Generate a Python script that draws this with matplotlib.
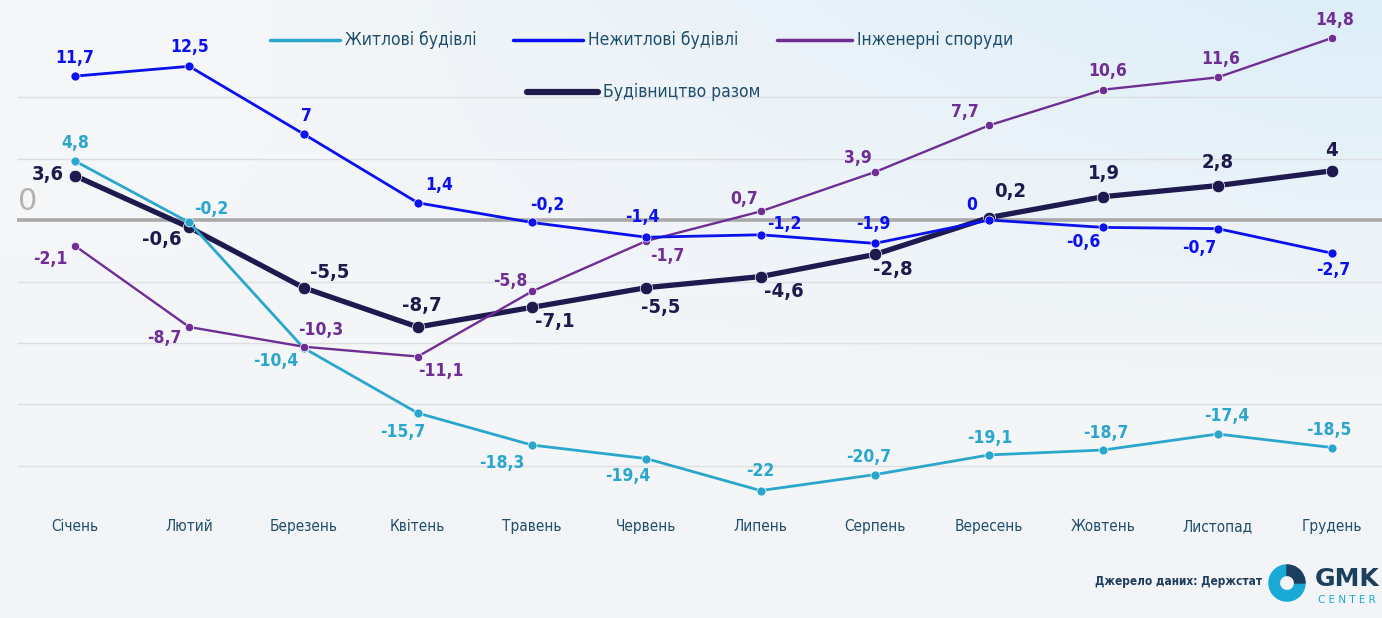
import numpy as np
import matplotlib.pyplot as plt
from matplotlib.patches import Wedge

plt.rcParams['font.family'] = ['DejaVu Sans']
plt.rcParams['font.stretch'] = 'condensed'

# Data (%, рік до року)
months = ["Січень", "Лютий", "Березень", "Квітень", "Травень", "Червень",
          "Липень", "Серпень", "Вересень", "Жовтень", "Листопад", "Грудень"]
zhytlovi = [4.8, -0.2, -10.4, -15.7, -18.3, -19.4, -22, -20.7, -19.1, -18.7, -17.4, -18.5]
nezhytlovi = [11.7, 12.5, 7, 1.4, -0.2, -1.4, -1.2, -1.9, 0, -0.6, -0.7, -2.7]
inzhenerni = [-2.1, -8.7, -10.3, -11.1, -5.8, -1.7, 0.7, 3.9, 7.7, 10.6, 11.6, 14.8]
razom = [3.6, -0.6, -5.5, -8.7, -7.1, -5.5, -4.6, -2.8, 0.2, 1.9, 2.8, 4]

# label offsets in pixels (dx, dy)
off_zh = [(0, 18), (22, 13), (-28, -13), (-15, -19), (-30, -18), (-19, -17),
          (0, 20), (-6, 18), (1, 17), (2, 17), (9, 18), (-3, 18)]
off_nz = [(0, 18), (0, 19), (3, 18), (21, 18), (15, 17), (-4, 20),
          (24, 11), (-2, 19), (-17, 15), (-20, -15), (-18, -19), (1, -17)]
off_in = [(-25, -13), (-25, -11), (17, 17), (23, -14), (-22, 10), (21, -15),
          (-16, 12), (-17, 14), (-24, 13), (4, 19), (3, 18), (3, 18)]
off_rz = [(-27, 1), (-27, -12), (26, 15), (4, 22), (23, -14), (14, -20),
          (23, -15), (18, -15), (21, 26), (0, 23), (0, 23), (0, 20)]

W, H = 1382, 618
fig = plt.figure(figsize=(W / 100, H / 100), dpi=100)
ax = fig.add_axes([0, 0, 1, 1])
x = np.arange(len(months))
xlim = (-0.656, 11.4376)
ylim = (-32.36, 17.89)
ax.set_xlim(*xlim)
ax.set_ylim(*ylim)
ax.axis('off')

# background gradient
gy, gx = np.mgrid[0:1:200j, 0:1:400j]
blue = np.clip(gx * 1.2 - 0.15, 0, 1) * np.clip(1 - gy * 1.5, 0, 1)
base = np.array([246, 247, 249]) * (1 - gy[..., None] * 0.35) + np.array([237, 240, 243]) * gy[..., None] * 0.35
img = base * (1 - blue[..., None]) + np.array([221, 238, 248]) * blue[..., None]
ax.imshow(img / 255, extent=(*xlim, *ylim), aspect='auto', origin='upper', zorder=0)

# grid
ax.hlines([10, 5, -5, -10, -15, -20], -0.51, xlim[1], color='#dcdee2', lw=1, zorder=1)
ax.hlines(0, -0.51, xlim[1], color='#a9a9a9', lw=2.6, zorder=1)
ax.text(-0.5, 0.35, "0", fontsize=22, color='#b3b3b3', ha='left', va='bottom',
        fontstretch='normal', zorder=2)

series = [
    ("Будівництво разом", razom, '#1e1a4e', 3.8, 9, 14.5, off_rz, 3),
    ("Житлові будівлі", zhytlovi, '#2ba6cc', 2.0, 6.5, 12.5, off_zh, 4),
    ("Нежитлові будівлі", nezhytlovi, '#0a10ee', 2.0, 6.5, 12.5, off_nz, 5),
    ("Інженерні споруди", inzhenerni, '#6e2e93', 1.7, 6, 12.5, off_in, 4),
]

for name, vals, col, lw, ms, fs, offs, z in series:
    ax.plot(x, vals, color=col, lw=lw, marker='o', ms=ms, mec='white', mew=0.5,
            zorder=z, solid_capstyle='round')
    for xi, v, (dx, dy) in zip(x, vals, offs):
        ax.annotate(f"{v:g}".replace('.', ','), (xi, v), xytext=(dx, dy),
                    textcoords='offset pixels', ha='center', va='center',
                    fontsize=fs, fontweight='bold', color=col, zorder=6)

# month labels
for xi, m in zip(x, months):
    ax.text(xi, -24.96, m, ha='center', va='center', fontsize=11, color='#1f4d6b')

# legend drawn by hand
leg = [("Житлові будівлі", '#2ba6cc', 270, 340, 40, 2.5),
       ("Нежитлові будівлі", '#0a10ee', 513, 583, 40, 2.5),
       ("Інженерні споруди", '#6e2e93', 777, 852, 40, 2.5),
       ("Будівництво разом", '#1e1a4e', 527, 598, 92, 4.5)]
for name, col, x0, x1, py, lw in leg:
    ax.plot([x0 / W, x1 / W], [1 - py / H, 1 - py / H], color=col, lw=lw,
            transform=ax.transAxes, solid_capstyle='round', zorder=5)
    ax.text((x1 + 5) / W, 1 - py / H, name, transform=ax.transAxes, ha='left',
            va='center', fontsize=12.5, color='#1f4d6b')

# source and logo
ax.text(1262 / W, 1 - 581 / H, "Джерело даних: Держстат", transform=ax.transAxes,
        ha='right', va='center', fontsize=8.5, fontweight='bold', color='#1d3c5a')

lax = fig.add_axes([1268 / W, (H - 602) / H, 38 / W, 38 / H])
lax.set_xlim(-1, 1)
lax.set_ylim(-1, 1)
lax.axis('off')
lax.add_patch(Wedge((0, 0), 0.95, 90, 360, width=0.55, color='#19a9d6'))
lax.add_patch(Wedge((0, 0), 0.95, 0, 90, width=0.55, color='#1b3f5e'))

ax.text(1315 / W, 1 - 586 / H, "GMK", transform=ax.transAxes, ha='left', va='baseline',
        fontsize=18, fontweight='bold', color='#1b3f5e', fontstretch='normal')
ax.text(1318 / W, 1 - 600 / H, "C E N T E R", transform=ax.transAxes, ha='left',
        va='center', fontsize=7.5, color='#19a9d6', fontstretch='normal')

fig.savefig("out.png", dpi=100)
